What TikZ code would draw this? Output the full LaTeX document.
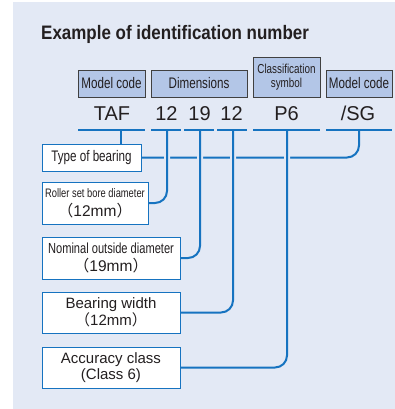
\documentclass[tikz,border=0pt]{standalone}
\usepackage{fontspec}
\setmainfont{Liberation Sans}
\newfontfamily\cond[FakeStretch=0.76]{Liberation Sans}
\newfontfamily\condb[FakeStretch=0.87]{Liberation Sans}
\newfontfamily\cjk{Noto Sans CJK JP}
\newcommand\fwlp{{\cjk （}}
\newcommand\fwrp{{\cjk ）}}
\definecolor{panel}{HTML}{E3E9F5}
\definecolor{hfill}{HTML}{B3C6E7}
\definecolor{lblue}{HTML}{1673C0}
\definecolor{txt}{HTML}{231F20}
\pgfdeclarelayer{bg}
\pgfdeclarelayer{mid}
\pgfsetlayers{bg,mid,main}
\tikzset{
  hbox/.style={draw=black!75, line width=0.9pt, fill=hfill, inner sep=0pt, text=txt,
    font=\cond\fontsize{15.3}{15}\selectfont},
  wbox/.style={draw=lblue, line width=1pt, fill=white, inner sep=0pt, text=txt, align=center},
  code/.style={text=txt, font=\fontsize{20}{22}\selectfont, anchor=base, inner sep=0pt},
  conn/.style={draw=lblue, line width=2pt, rounded corners=12pt},
  halo/.style={preaction={draw=panel, line width=6pt}},
  uline/.style={draw=lblue, line width=2pt},
}
\begin{document}
\begin{tikzpicture}[x=1pt,y=-1pt]
\useasboundingbox (0,0) rectangle (395,409);
\begin{pgfonlayer}{bg}
\fill[panel] (13,2) rectangle (395,409);
\end{pgfonlayer}

\node[anchor=base west, inner sep=0pt, text=txt, font=\condb\bfseries\fontsize{19.5}{20}\selectfont] (title) at (41,39.5) {Example of identification number};

% header boxes
\node[hbox, minimum width=67pt, minimum height=27pt] (hm1) at (111.5,83.5) {Model code};
\node[hbox, minimum width=96pt, minimum height=27pt] (hdim) at (199,83.5) {Dimensions};
\node[hbox, minimum width=67pt, minimum height=40pt, align=center,
      font=\cond\fontsize{13}{13.5}\selectfont] (hcls) at (286.5,77) {Classification\\symbol};
\node[hbox, minimum width=66pt, minimum height=27pt] (hm2) at (359,83.5) {Model code};

% codes
\node[code] (cTAF) at (112,121) {TAF};
\node[code] (c12a) at (166.5,121) {12};
\node[code] (c19) at (199.5,121) {19};
\node[code] (c12b) at (231.5,121) {12};
\node[code] (cP6) at (286.5,121) {P6};
\node[code] (cSG) at (358,121) {/SG};

\coordinate (uTAF) at (121,130);
\coordinate (u12a) at (167,130);
\coordinate (u19) at (200,130);
\coordinate (u12b) at (233,130);
\coordinate (uP6) at (287,130);
\coordinate (uSG) at (359,130);

% description boxes
\node[wbox, minimum width=99pt, minimum height=27pt, font=\cond\fontsize{15.3}{16}\selectfont] (type) at (91.5,157.5) {Type of bearing};
\node[wbox, minimum width=106pt, minimum height=42pt, font=\fontsize{15.5}{19}\selectfont] (roller) at (95,203)
  {{\cond\fontsize{12.3}{19}\selectfont Roller set bore diameter}\\\fwlp 12mm\fwrp};
\node[wbox, minimum width=138pt, minimum height=42pt, font=\fontsize{15.5}{17.4}\selectfont] (nominal) at (111,258)
  {{\cond\fontsize{14.6}{17.4}\selectfont Nominal outside diameter}\\\fwlp 19mm\fwrp};
\node[wbox, minimum width=138pt, minimum height=41pt, font=\fontsize{15}{17.3}\selectfont] (width) at (111,312.5)
  {Bearing width\\\fwlp 12mm\fwrp};
\node[wbox, minimum width=138pt, minimum height=41pt, font=\fontsize{15}{15.7}\selectfont] (acc) at (111,367.5)
  {Accuracy class\\(Class 6)};

\begin{pgfonlayer}{mid}
\draw[conn] (uSG) |- (type.east);
\draw[conn, halo] (u12a) |- (roller.east);
\draw[conn, halo] (u19) |- (nominal.east);
\draw[conn, halo] (u12b) |- (width.east);
\draw[conn, halo] (uP6) |- (acc.east);
\draw[conn] (uTAF) -- (uTAF |- type.north);
\draw[uline] (78,130) -- (145,130);
\draw[uline] (151,130) -- (181,130);
\draw[uline] (184,130) -- (214,130);
\draw[uline] (217,130) -- (247,130);
\draw[uline] (253,130) -- (320,130);
\draw[uline] (326,130) -- (392,130);
\end{pgfonlayer}
\end{tikzpicture}
\end{document}
